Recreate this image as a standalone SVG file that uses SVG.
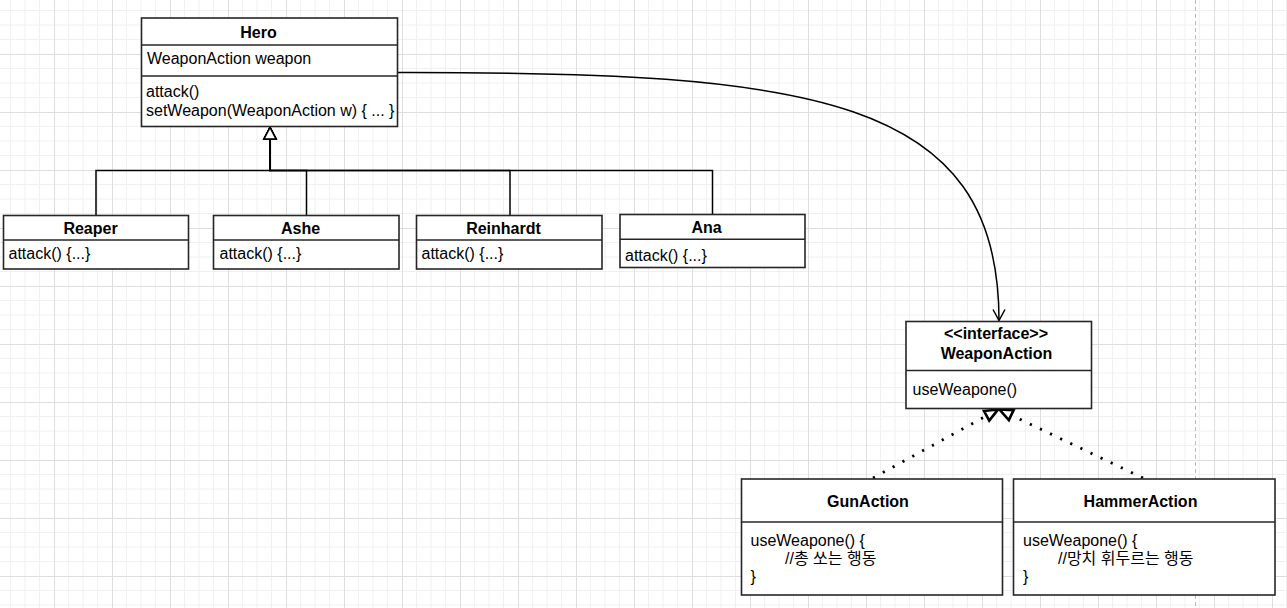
<svg xmlns="http://www.w3.org/2000/svg" width="1287" height="608" viewBox="0 0 1287 608">
<style>
text{font-family:"Liberation Sans","Noto Sans CJK KR",Arial,sans-serif;font-size:16px;fill:#000}
.b{font-weight:bold;text-anchor:middle}
.box{fill:#fff;stroke:#262626;stroke-width:1.6}
.div{stroke:#262626;stroke-width:1.6}
.edge{fill:none;stroke:#000;stroke-width:1.5}
.dot{fill:none;stroke:#000;stroke-width:2.8;stroke-dasharray:2.2 9}
</style>
<defs>
<pattern id="grid" patternUnits="userSpaceOnUse" x="-4" y="-4" width="58" height="58">
<path d="M14.5,0V58M29,0V58M43.5,0V58M0,14.5H58M0,29H58M0,43.5H58" stroke="#f0f0f0" stroke-width="1" fill="none"/>
<path d="M0.5,0V58M0,0.5H58" stroke="#dedede" stroke-width="1" fill="none"/>
</pattern>
<marker id="inh" markerUnits="userSpaceOnUse" viewBox="-2 -2 16 16" markerWidth="16" markerHeight="16" refX="11.5" refY="6" orient="auto">
<path d="M0,0 L11.5,6 L0,12 Z" fill="#fff" stroke="#000" stroke-width="1.6"/>
</marker>
<marker id="real" markerUnits="userSpaceOnUse" viewBox="-3 -3 20 18" markerWidth="20" markerHeight="18" refX="13" refY="6" orient="auto">
<path d="M0,0.5 L13,6 L0,11.5 Z" fill="#fff" stroke="#000" stroke-width="2.6" stroke-dasharray="none"/>
</marker>
<marker id="open" markerUnits="userSpaceOnUse" viewBox="-2 -2 16 16" markerWidth="16" markerHeight="16" refX="11" refY="6" orient="auto">
<path d="M0,0 L11,6 L0,12" fill="none" stroke="#000" stroke-width="1.5"/>
</marker>
</defs>
<rect width="1287" height="608" fill="#fff"/>
<rect width="1287" height="608" fill="url(#grid)"/>
<line x1="1195.5" y1="0" x2="1195.5" y2="608" stroke="#bdbdbd" stroke-width="1" stroke-dasharray="4 3"/>

<g id="connectors">
<path class="edge" d="M96,215.5 V170.5 H270 V127.5" marker-end="url(#inh)"/>
<path class="edge" d="M306.5,215.5 V170.5 H270 V127.5" marker-end="url(#inh)"/>
<path class="edge" d="M510,215.5 V170.5 H270 V127.5" marker-end="url(#inh)"/>
<path class="edge" d="M712.5,214.5 V170.5 H270 V127.5" marker-end="url(#inh)"/>
<path class="edge" d="M398,72.5 C810,72 999,95 999,320.5" marker-end="url(#open)"/>
<path class="dot" d="M873,478 L998,409.5" marker-end="url(#real)"/>
<path class="dot" d="M1143,478 L999.5,409.5" marker-end="url(#real)"/>
</g>

<g id="Hero">
<rect class="box" x="141.5" y="18" width="256" height="108.5"/>
<line class="div" x1="141.5" y1="45" x2="397.5" y2="45"/>
<line class="div" x1="141.5" y1="76" x2="397.5" y2="76"/>
<text class="b" x="258.5" y="37.5">Hero</text>
<text x="147" y="64">WeaponAction weapon</text>
<text x="146" y="96.5">attack()</text>
<text x="146" y="116">setWeapon(WeaponAction w) { ... }</text>
</g>

<g id="Reaper">
<rect class="box" x="3.5" y="215.5" width="185" height="53.5"/>
<line class="div" x1="3.5" y1="240" x2="188.5" y2="240"/>
<text class="b" x="90.5" y="234">Reaper</text>
<text x="8.5" y="259">attack() {...}</text>
</g>

<g id="Ashe">
<rect class="box" x="213.5" y="215.5" width="185.5" height="53.5"/>
<line class="div" x1="213.5" y1="240" x2="399" y2="240"/>
<text class="b" x="300.5" y="234">Ashe</text>
<text x="219.5" y="259">attack() {...}</text>
</g>

<g id="Reinhardt">
<rect class="box" x="416.5" y="215.5" width="185.5" height="53.5"/>
<line class="div" x1="416.5" y1="240" x2="602" y2="240"/>
<text class="b" x="503.5" y="234">Reinhardt</text>
<text x="421.5" y="259">attack() {...}</text>
</g>

<g id="Ana">
<rect class="box" x="620" y="214.5" width="185" height="53"/>
<line class="div" x1="620" y1="239.3" x2="805" y2="239.3"/>
<text class="b" x="706.5" y="232.5">Ana</text>
<text x="625" y="260.5">attack() {...}</text>
</g>

<g id="WeaponAction">
<rect class="box" x="906" y="321.5" width="185.5" height="87"/>
<line class="div" x1="906" y1="370.5" x2="1091.5" y2="370.5"/>
<text class="b" x="996" y="338.5">&lt;&lt;interface&gt;&gt;</text>
<text class="b" x="996.5" y="359">WeaponAction</text>
<text x="912.5" y="395">useWeapone()</text>
</g>

<g id="GunAction">
<rect class="box" x="741.5" y="479" width="261" height="116"/>
<line class="div" x1="741.5" y1="522" x2="1002.5" y2="522"/>
<text class="b" x="868" y="506.5">GunAction</text>
<text x="750.5" y="546">useWeapone() {</text>
<text x="785" y="563.5">//총 쏘는 행동</text>
<text x="750.5" y="582">}</text>
</g>

<g id="HammerAction">
<rect class="box" x="1013.5" y="479" width="261.5" height="116"/>
<line class="div" x1="1013.5" y1="522" x2="1275" y2="522"/>
<text class="b" x="1140.5" y="506.5">HammerAction</text>
<text x="1023" y="546">useWeapone() {</text>
<text x="1058" y="563.5">//망치 휘두르는 행동</text>
<text x="1023" y="582">}</text>
</g>
</svg>
